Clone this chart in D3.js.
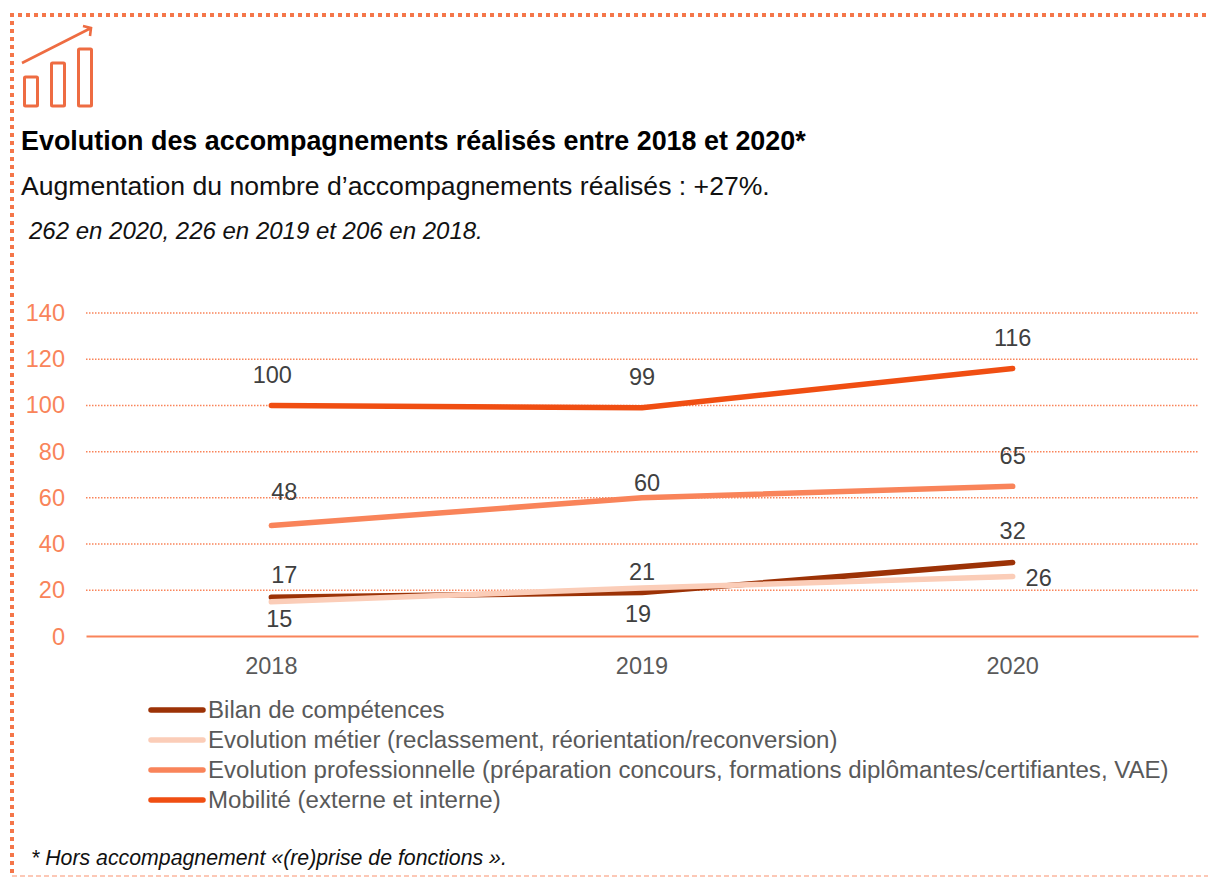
<!DOCTYPE html>
<html><head><meta charset="utf-8">
<script src="https://cdnjs.cloudflare.com/ajax/libs/d3/7.8.5/d3.min.js"></script>
<style>html,body{margin:0;padding:0;background:#fff}svg{display:block}text{font-family:"Liberation Sans",Arial,sans-serif}</style>
</head><body><svg id="c" width="1208" height="877"></svg>
<script>
const years = ["2018","2019","2020"];
const yTicks = [0,20,40,60,80,100,120,140];
const bilan = [17,19,32];
const metier = [15,21,26];
const pro = [48,60,65];
const mobilite = [100,99,116];
const names = ["Bilan de compétences","Evolution métier (reclassement, réorientation/reconversion)","Evolution professionnelle (préparation concours, formations diplômantes/certifiantes, VAE)","Mobilité (externe et interne)"];
const colors = ["#9C3206","#FBCDB8","#F9845A","#F04E12"];
const seriesList = [bilan,metier,pro,mobilite];
// label offsets [dx,dy] per series and year
const labelOffsets = [
  [[13,-22],[-4,21],[0,-32]],
  [[8,17],[0,-16],[26,1]],
  [[13,-34],[5,-15],[0,-31]],
  [[1,-31],[0,-31],[0,-31]]
];
const svg = d3.select("#c");
const x = d3.scaleBand().domain(years).range([86,1198]);
const y = d3.scaleLinear().domain([0,140]).range([636.5,313]);
const cx = d => x(d)+x.bandwidth()/2;

// frame
const border="#F4764A";
svg.append("line").attr("x1",10).attr("x2",1208).attr("y1",15).attr("y2",15).attr("stroke",border).attr("stroke-width",4).attr("stroke-dasharray","4 4");
svg.append("line").attr("x1",12).attr("x2",12).attr("y1",13).attr("y2",877).attr("stroke",border).attr("stroke-width",4).attr("stroke-dasharray","4 4");
svg.append("line").attr("x1",12).attr("x2",1208).attr("y1",876).attr("y2",876).attr("stroke","#FBB79E").attr("stroke-width",1.5).attr("stroke-dasharray","5 3");

// icon
const icon = svg.append("g").attr("fill","none").attr("stroke","#EE6C42").attr("stroke-width",3);
[[24.5,77,13,29],[51.5,63,13,43],[78.5,49,13,57]].forEach(r=>icon.append("rect").attr("x",r[0]).attr("y",r[1]).attr("width",r[2]).attr("height",r[3]).attr("rx",1));
icon.append("path").attr("d","M22 63 L91 28 M83 26 L91 28 L90 36").attr("stroke-width",2.6);

// titles
svg.append("text").attr("x",21).attr("y",149.5).attr("font-size",26.9).attr("font-weight","bold").attr("fill","#000").text("Evolution des accompagnements réalisés entre 2018 et 2020*");
svg.append("text").attr("x",21).attr("y",195).attr("font-size",26.6).attr("fill","#111").text("Augmentation du nombre d’accompagnements réalisés : +27%.");
svg.append("text").attr("x",29).attr("y",239).attr("font-size",24).attr("font-style","italic").attr("fill","#111").text("262 en 2020, 226 en 2019 et 206 en 2018.");
svg.append("text").attr("x",31).attr("y",865).attr("font-size",21.3).attr("font-style","italic").attr("fill","#111").text("* Hors accompagnement «(re)prise de fonctions ».");

// grid
svg.append("g").selectAll("line").data(yTicks.filter(d=>d>0)).join("line")
  .attr("x1",86).attr("x2",1198).attr("y1",d=>y(d)).attr("y2",d=>y(d))
  .attr("stroke","#F9845A").attr("stroke-width",1.5).attr("stroke-dasharray","1.5 1.5");

// y axis
const ya = svg.append("g").attr("transform","translate(65,0)").call(d3.axisLeft(y).tickValues(yTicks).tickSize(0).tickPadding(0));
ya.select(".domain").remove();
ya.selectAll("text").attr("font-size",23.5).attr("fill","#F9845A").style("font-family",'"Liberation Sans",Arial,sans-serif');

// x axis
const xa = svg.append("g").attr("transform","translate(0,636)").call(d3.axisBottom(x).tickSize(0).tickPadding(21));
xa.select(".domain").attr("stroke","#F9845A").attr("stroke-width",2);
xa.selectAll("text").attr("font-size",23.5).attr("fill","#595959").style("font-family",'"Liberation Sans",Arial,sans-serif');

// lines
const line = d3.line().x((d,i)=>cx(years[i])).y(d=>y(d));
seriesList.forEach((s,k)=>{
  svg.append("path").datum(s).attr("d",line).attr("fill","none").attr("stroke",colors[k]).attr("stroke-width",5.5).attr("stroke-linecap","round").attr("stroke-linejoin","round");
});
seriesList.forEach((s,k)=>{
  svg.append("g").selectAll("text").data(s).join("text")
    .attr("x",(d,i)=>cx(years[i])+labelOffsets[k][i][0])
    .attr("y",(d,i)=>y(d)+labelOffsets[k][i][1])
    .attr("dy","0.35em").attr("text-anchor","middle").attr("font-size",23.5).attr("fill","#404040").text(d=>d);
});

// legend
const rowY = d3.scaleOrdinal().domain(names).range([710,740,770,800]);
const lg = svg.append("g").selectAll("g").data(names).join("g").attr("transform",d=>`translate(0,${rowY(d)})`);
lg.append("line").attr("x1",151).attr("x2",203).attr("y1",0).attr("y2",0).attr("stroke",(d,i)=>colors[i]).attr("stroke-width",5.5).attr("stroke-linecap","round");
lg.append("text").attr("x",208).attr("dy","0.35em").attr("font-size",24.05).attr("fill","#595959").text(d=>d);
</script></body></html>
